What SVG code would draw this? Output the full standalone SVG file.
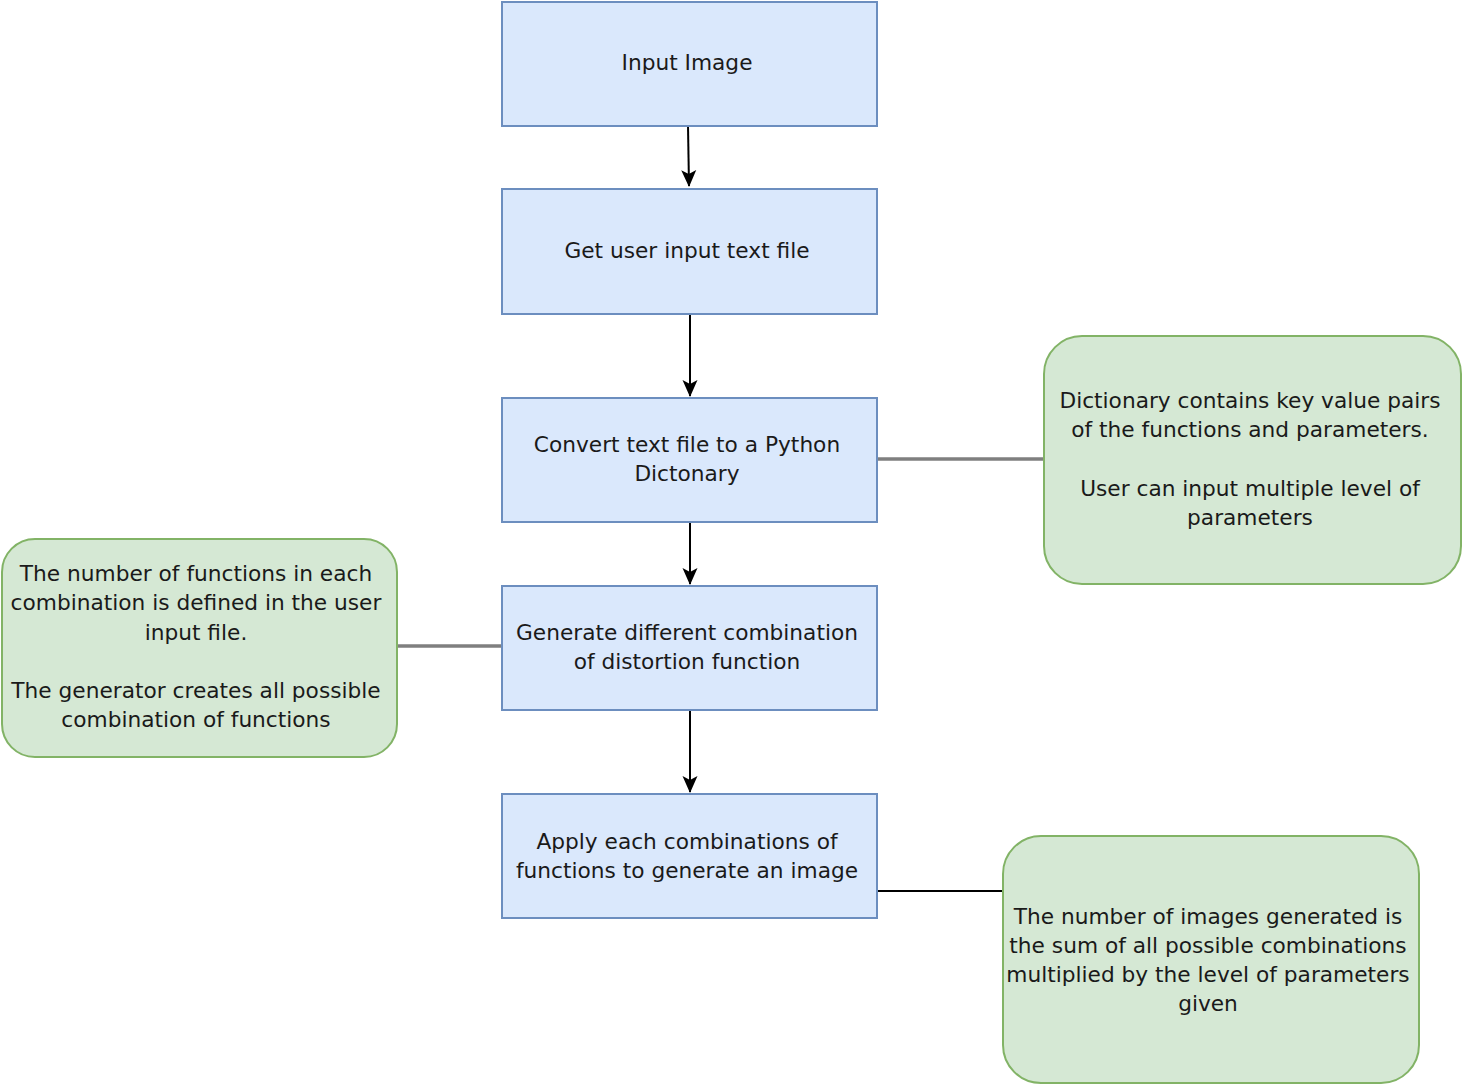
<svg xmlns="http://www.w3.org/2000/svg" width="1464" height="1085" viewBox="0 0 1464 1085">
<style>
.blue{fill:#dae8fc;stroke:#6c8ebf;stroke-width:2}
.green{fill:#d5e8d4;stroke:#82b366;stroke-width:2}
text{font-family:"DejaVu Sans","Liberation Sans",Arial,sans-serif;font-size:21.7px;fill:#1a1a1a;text-anchor:middle}
.arrow{stroke:#000;stroke-width:2;fill:none;marker-end:url(#ah)}
.gray{stroke:#7f7f7f;stroke-width:3.5;fill:none}
.blk{stroke:#000;stroke-width:2;fill:none}
</style>
<defs>
<marker id="ah" markerWidth="20" markerHeight="20" refX="17" refY="10" orient="auto" markerUnits="userSpaceOnUse">
<path d="M1,2.5 L18,10 L1,17.5 L5,10 Z" fill="#000"/>
</marker>
</defs>
<rect width="1464" height="1085" fill="#fff"/>
<g id="connectors">
<path class="arrow" d="M688,126 L689,186"/>
<path class="arrow" d="M690,314 L690,396"/>
<path class="arrow" d="M690,522 L690,584"/>
<path class="arrow" d="M690,710 L690,792"/>
<path class="gray" d="M877,459 L1044,459"/>
<path class="gray" d="M397,646 L502,646"/>
<path class="blk" d="M877,891 L1003,891"/>
</g>
<g id="n1"><rect class="blue" x="502" y="2" width="375" height="124"/><text x="687" y="70">Input Image</text></g>
<g id="n2"><rect class="blue" x="502" y="189" width="375" height="125"/><text x="687" y="258">Get user input text file</text></g>
<g id="n3"><rect class="blue" x="502" y="398" width="375" height="124"/><text x="687" y="452">Convert text file to a Python</text><text x="687" y="481">Dictonary</text></g>
<g id="n4"><rect class="blue" x="502" y="586" width="375" height="124"/><text x="687" y="640">Generate different combination</text><text x="687" y="669">of distortion function</text></g>
<g id="n5"><rect class="blue" x="502" y="794" width="375" height="124"/><text x="687" y="849">Apply each combinations of</text><text x="687" y="878">functions to generate an image</text></g>
<g id="note1"><rect class="green" x="1044" y="336" width="417" height="248" rx="38" ry="38"/><text x="1250" y="408">Dictionary contains key value pairs</text><text x="1250" y="437">of the functions and parameters.</text><text x="1250" y="496">User can input multiple level of</text><text x="1250" y="525">parameters</text></g>
<g id="note2"><rect class="green" x="2" y="539" width="395" height="218" rx="33" ry="33"/><text x="196" y="581">The number of functions in each</text><text x="196" y="610">combination is defined in the user</text><text x="196" y="640">input file.</text><text x="196" y="698">The generator creates all possible</text><text x="196" y="727">combination of functions</text></g>
<g id="note3"><rect class="green" x="1003" y="836" width="416" height="247" rx="38" ry="38"/><text x="1208" y="924">The number of images generated is</text><text x="1208" y="953">the sum of all possible combinations</text><text x="1208" y="982">multiplied by the level of parameters</text><text x="1208" y="1011">given</text></g>
</svg>
